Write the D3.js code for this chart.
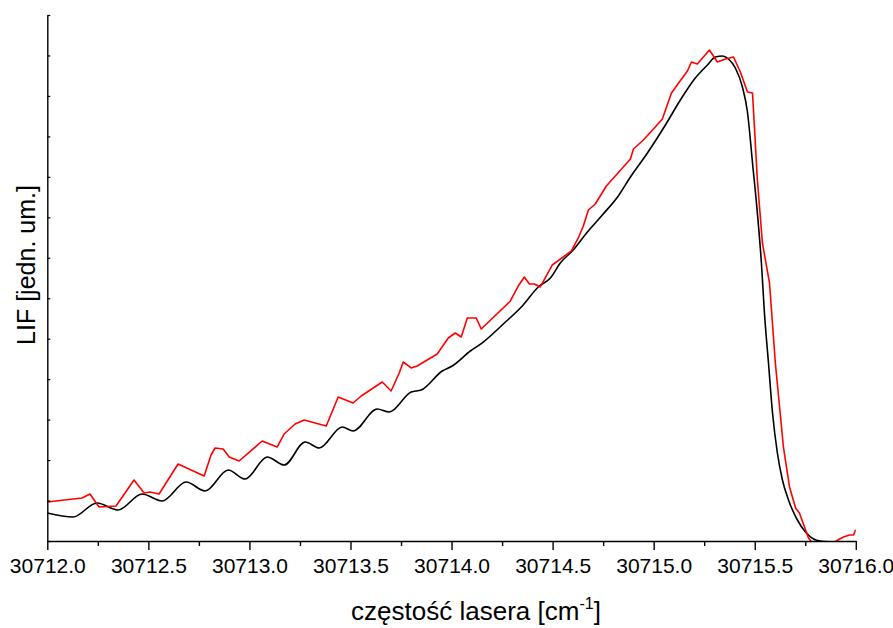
<!DOCTYPE html>
<html>
<head>
<meta charset="utf-8">
<script src="https://cdn.jsdelivr.net/npm/d3@7/dist/d3.min.js"></script>
<style>
  html, body { margin: 0; padding: 0; background: #fff; }
  svg text { font-family: "Liberation Sans", Arial, sans-serif; fill: #000; }
</style>
</head>
<body>
<svg id="chart" width="893" height="628"></svg>
<script>
// Laser frequency offsets (cm^-1 above 30712) and LIF intensity, arbitrary units
const redX = [0.000, 0.172, 0.211, 0.256, 0.340, 0.429, 0.479, 0.508, 0.553, 0.647,
  0.776, 0.810, 0.830, 0.870, 0.900, 0.949, 1.063, 1.137, 1.172, 1.226,
  1.271, 1.380, 1.439, 1.513, 1.553, 1.657, 1.701, 1.741, 1.761, 1.800,
  1.830, 1.929, 1.984, 2.018, 2.048, 2.078, 2.122, 2.147, 2.291, 2.330,
  2.360, 2.385, 2.410, 2.439, 2.498, 2.593, 2.627, 2.652, 2.677, 2.711,
  2.766, 2.885, 2.900, 2.949, 2.999, 3.043, 3.088, 3.127, 3.167, 3.187,
  3.216, 3.276, 3.315, 3.355, 3.395, 3.429, 3.464, 3.489, 3.504, 3.513,
  3.538, 3.573, 3.602, 3.642, 3.672, 3.702, 3.721, 3.766, 3.800, 3.875,
  3.909, 3.939, 3.969, 3.989, 4.000];
const redY = [0.964, 1.063, 1.162, 0.840, 0.865, 1.508, 1.186, 1.211, 1.162, 1.903,
  1.607, 2.126, 2.299, 2.274, 2.076, 1.977, 2.472, 2.323, 2.645, 2.892,
  2.991, 2.842, 3.559, 3.411, 3.584, 3.930, 3.707, 4.152, 4.424, 4.276,
  4.325, 4.622, 5.017, 5.141, 5.042, 5.512, 5.512, 5.240, 5.932, 6.302,
  6.525, 6.352, 6.352, 6.278, 6.821, 7.168, 7.489, 7.785, 8.181, 8.329,
  8.774, 9.441, 9.689, 9.911, 10.183, 10.430, 11.073, 11.344, 11.616, 11.839,
  11.789, 12.135, 11.839, 11.913, 11.962, 11.592, 11.097, 11.073, 9.738, 8.922,
  7.365, 6.377, 4.399, 2.323, 1.335, 0.816, 0.692, 0.074, -0.15, -0.12,
  0.020, 0.099, 0.148, 0.148, 0.280];

const blackX = [0.000, 0.127, 0.246, 0.350, 0.469, 0.568, 0.687, 0.781, 0.895, 0.979,
  1.088, 1.172, 1.276, 1.345, 1.459, 1.513, 1.632, 1.692, 1.800, 1.850,
  1.954, 2.003, 2.093, 2.157, 2.256, 2.350, 2.429, 2.489, 2.538, 2.602,
  2.672, 2.746, 2.825, 2.885, 2.969, 3.058, 3.132, 3.206, 3.266, 3.305,
  3.340, 3.370, 3.404, 3.439, 3.464, 3.489, 3.513, 3.533, 3.548, 3.568,
  3.588, 3.612, 3.637, 3.667, 3.711, 3.751, 3.791, 3.825, 4.000];
const blackY = [0.692, 0.593, 0.939, 0.766, 1.162, 0.989, 1.458, 1.236, 1.755, 1.532,
  2.076, 1.878, 2.447, 2.299, 2.818, 2.719, 3.262, 3.188, 3.683, 3.732,
  4.202, 4.325, 4.696, 4.918, 5.363, 5.808, 6.278, 6.500, 6.871, 7.192,
  7.637, 8.057, 8.527, 8.996, 9.590, 10.282, 10.900, 11.443, 11.765, 11.962,
  11.987, 11.913, 11.690, 11.221, 10.603, 9.343, 8.107, 6.871, 5.635, 4.399,
  3.164, 2.175, 1.508, 1.013, 0.519, 0.222, 0.049, 0.000, -0.05];

const xBase = 30712;
const xTickValues = [30712.0, 30712.5, 30713.0, 30713.5, 30714.0, 30714.5, 30715.0, 30715.5, 30716.0];
const xMinorValues = [30712.25, 30712.75, 30713.25, 30713.75, 30714.25, 30714.75, 30715.25, 30715.75];
const yTickValues = [0, 1, 2, 3, 4, 5, 6, 7, 8, 9, 10, 11, 12, 13];

const xLabel = "częstość lasera [cm";
const yLabel = "LIF [jedn. um.]";

const W = 893, H = 628;
const m = { left: 47.3, right: 893 - 855.8, top: 15, bottom: 628 - 541 };

const svg = d3.select("#chart");

const x = d3.scaleLinear().domain([30712, 30716]).range([m.left, W - m.right]);
const y = d3.scaleLinear().domain([0, 13]).range([H - m.bottom, m.top]);

const red = redX.map((v, i) => ({ x: xBase + v, y: redY[i] }));
const black = blackX.map((v, i) => ({ x: xBase + v, y: blackY[i] }));

svg.append("defs").append("clipPath").attr("id", "plotClip")
  .append("rect")
  .attr("x", m.left).attr("y", 0)
  .attr("width", W - m.left - m.right).attr("height", H - m.bottom);

const plot = svg.append("g").attr("clip-path", "url(#plotClip)");

const lineBlack = d3.line().x(d => x(d.x)).y(d => y(d.y)).curve(d3.curveMonotoneX);
const lineRed = d3.line().x(d => x(d.x)).y(d => y(d.y));

plot.append("path").datum(black)
  .attr("d", lineBlack)
  .attr("fill", "none").attr("stroke", "#000").attr("stroke-width", 1.6)
  .attr("stroke-linejoin", "round");

plot.append("path").datum(red)
  .attr("d", lineRed)
  .attr("fill", "none").attr("stroke", "#ff0000").attr("stroke-width", 1.6)
  .attr("stroke-linejoin", "round");

// bottom axis: labelled major ticks every 0.5, minor ticks in between
const xAxis = d3.axisBottom(x).tickValues(xTickValues).tickFormat(d3.format(".1f"))
  .tickSizeInner(9).tickSizeOuter(0).tickPadding(8);
const gx = svg.append("g").attr("transform", `translate(0,${H - m.bottom})`).call(xAxis);
gx.select(".domain").attr("stroke-width", 1.4);
gx.selectAll(".tick line").attr("stroke-width", 1.4);
gx.selectAll(".tick text").attr("font-size", 21).style("font-family", "'Liberation Sans', Arial, sans-serif");

const xMinor = d3.axisBottom(x).tickValues(xMinorValues).tickFormat("").tickSizeInner(5).tickSizeOuter(0);
const gxm = svg.append("g").attr("transform", `translate(0,${H - m.bottom})`).call(xMinor);
gxm.select(".domain").remove();
gxm.selectAll(".tick line").attr("stroke-width", 1.4);

// left axis: unlabelled inward ticks
const yAxis = d3.axisLeft(y).tickValues(yTickValues).tickFormat("").tickSizeInner(-3).tickSizeOuter(0);
const gy = svg.append("g").attr("transform", `translate(${m.left},0)`).call(yAxis);
gy.select(".domain").attr("stroke-width", 1.4);
gy.selectAll(".tick line").attr("stroke-width", 1.2);

// axis titles
const xt = svg.append("text")
  .attr("x", 476)
  .attr("y", 620)
  .attr("text-anchor", "middle")
  .attr("font-size", 26);
xt.append("tspan").text(xLabel);
xt.append("tspan").attr("font-size", 16).attr("dy", -11).text("-1");
xt.append("tspan").attr("dy", 11).text("]");

svg.append("text")
  .attr("transform", `translate(35,${(m.top + H - m.bottom) / 2 - 13}) rotate(-90)`)
  .attr("text-anchor", "middle")
  .attr("font-size", 25)
  .text(yLabel);
</script>
</body>
</html>
